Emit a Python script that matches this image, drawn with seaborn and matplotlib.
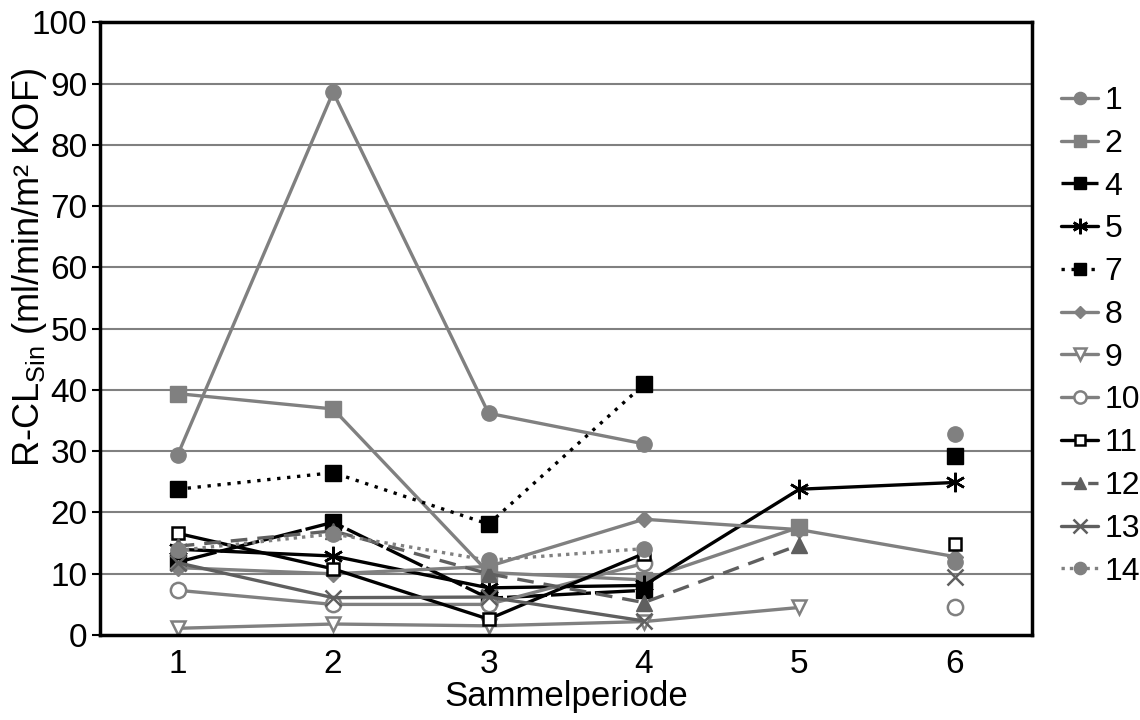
import numpy as np
import pandas as pd
import matplotlib
matplotlib.use("Agg")
import matplotlib.pyplot as plt
import seaborn as sns

periods = [1, 2, 3, 4, 5, 6]
nan = np.nan
s1 = [29.4, 88.6, 36.2, 31.2, nan, 32.8]
s2 = [39.4, 36.9, 10.2, 9.0, 17.6, nan]
s4 = [11.9, 18.4, 6.0, 7.3, nan, nan]
s5 = [14.0, 12.9, 7.7, 8.1, 23.8, 24.9]
s7 = [23.8, 26.5, 18.1, 40.9, nan, 29.2]
s8 = [11.0, 10.0, 11.2, 18.9, 17.2, 12.8]
s9 = [1.1, 1.8, 1.5, 2.2, 4.5, nan]
s10 = [7.3, 5.0, 5.0, 11.7, nan, 4.6]
s11 = [16.6, 10.8, 2.6, 13.3, nan, 14.8]
s12 = [14.5, 17.0, 10.0, 5.3, 14.7, nan]
s13 = [11.8, 6.1, 6.2, 2.3, nan, 9.4]
s14 = [13.8, 16.5, 12.2, 14.1, nan, 12.0]
labels = ["1", "2", "4", "5", "7", "8", "9", "10", "11", "12", "13", "14"]
values = [s1, s2, s4, s5, s7, s8, s9, s10, s11, s12, s13, s14]

G = "#808080"
DG = "#5f5f5f"
K = "#000000"
W = "#ffffff"
# color, linestyle, marker, markerfacecolor, markersize
styles = {
    "1": (G, "-", "o", G, 11),
    "2": (G, "-", "s", G, 11),
    "4": (K, (0, (12, 1.2)), "s", K, 11),
    "5": (K, "-", (6, 2, 0), K, 14),
    "7": (K, (0, (1, 2)), "s", K, 11),
    "8": (G, "-", "D", G, 8),
    "9": (G, "-", "v", W, 10),
    "10": (G, "-", "o", W, 11),
    "11": (K, "-", "s", W, 9),
    "12": (DG, (0, (5, 3)), "^", DG, 11),
    "13": (DG, "-", "x", DG, 12),
    "14": (G, (0, (1, 1.5)), "o", G, 11),
}

sns.set_theme(style="white")
plt.rcParams["font.family"] = ["Liberation Sans", "DejaVu Sans"]
plt.rcParams["mathtext.fontset"] = "custom"
plt.rcParams["mathtext.rm"] = "Liberation Sans"
plt.rcParams["mathtext.it"] = "Liberation Sans"
for key in ("text.color", "axes.labelcolor", "xtick.color", "ytick.color"):
    plt.rcParams[key] = "black"

fig = plt.figure(figsize=(11.4, 7.2), dpi=100)
ax = fig.add_axes([0.0877, 0.118, 0.818, 0.851])

for lab, vals in zip(labels, values):
    col, ls, mk, mfc, ms = styles[lab]
    df = pd.DataFrame({"period": periods, "value": vals})
    df["seg"] = df["value"].isna().cumsum()
    df = df.dropna()
    first = True
    for _, part in df.groupby("seg"):
        sns.lineplot(data=part, x="period", y="value", ax=ax, color=col,
                     linestyle=ls, linewidth=2.4, marker=mk,
                     markerfacecolor=mfc, markeredgecolor=col,
                     markeredgewidth=1.8 if mfc == W or mk in ("x", (6, 2, 0)) else 1,
                     markersize=ms, label=lab if first else "_nolegend_",
                     legend=False, estimator=None, sort=False)
        first = False

ax.set_xlim(0.5, 6.5)
ax.set_ylim(0, 100)
ax.set_yticks(range(0, 101, 10))
ax.set_xticks(periods)
ax.set_xticks([0.5 + i for i in range(7)], minor=True)
ax.tick_params(axis="x", which="major", length=0, labelsize=24, pad=10)
ax.tick_params(axis="x", which="minor", length=8, width=1.5, color=K, direction="out")
ax.tick_params(axis="y", which="major", length=6, width=1.5, color=K, direction="out",
               labelsize=24, pad=3)
ax.tick_params(bottom=True, left=True)
for y in range(10, 100, 10):
    ax.axhline(y, color=G, linewidth=1.5, zorder=0)
for sp in ax.spines.values():
    sp.set_color(K)
    sp.set_linewidth(2.5)
    sp.set_visible(True)

ax.set_xlabel("Sammelperiode", fontsize=25, labelpad=0)
ax.set_ylabel(r"R-CL$_{\mathrm{Sin}}$ (ml/min/m² KOF)", fontsize=26)
ax.yaxis.set_label_coords(-0.055, 0.6)

handles, labs = ax.get_legend_handles_labels()
fig.legend(handles, labs, loc="center left", bbox_to_anchor=(0.931, 0.533),
           frameon=False, fontsize=23, handlelength=1.15, handletextpad=0.2,
           labelspacing=0.40, borderaxespad=0, borderpad=0, markerscale=0.8)

fig.savefig("out.png", dpi=100)
